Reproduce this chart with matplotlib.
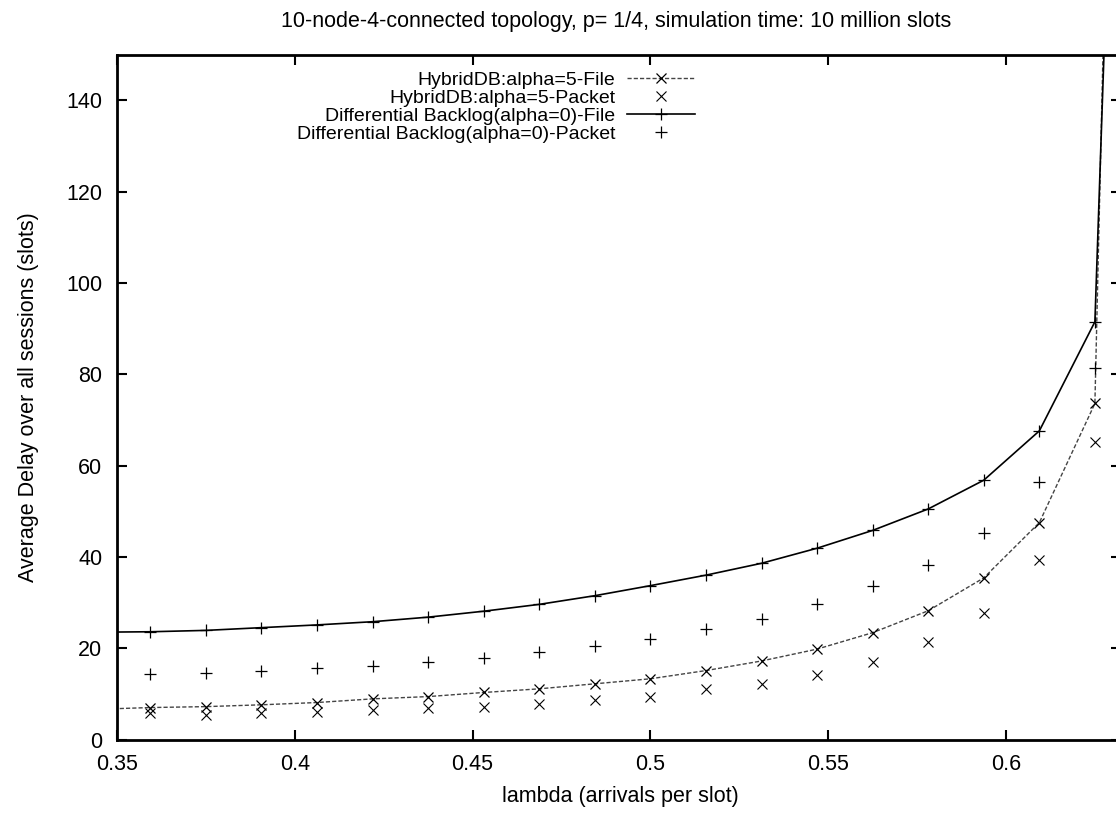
import matplotlib
matplotlib.use("Agg")
import matplotlib.pyplot as plt
import numpy as np

plt.rcParams['font.family'] = ['Liberation Sans', 'DejaVu Sans']

# x values: lambda = k/64 (first and last points lie outside the visible window)
lam_file = [k / 64 for k in range(22, 42)]
lam_pkt = [k / 64 for k in range(23, 41)]

hyb_file = [6.6, 7.0, 7.2, 7.6, 8.1, 8.9, 9.4, 10.3, 11.1, 12.2, 13.3, 15.1,
            17.2, 19.8, 23.4, 28.2, 35.4, 47.5, 73.6, 600]
hyb_pkt = [5.7, 5.4, 5.7, 6.1, 6.5, 6.8, 7.2, 7.8, 8.7, 9.4, 11.0, 12.1,
           14.1, 17.0, 21.3, 27.8, 39.3, 65.2]
db_file = [23.5, 23.6, 23.9, 24.5, 25.1, 25.8, 26.8, 28.1, 29.6, 31.5, 33.7, 36.0,
           38.6, 41.9, 45.8, 50.5, 56.8, 67.6, 91.5, 450]
db_pkt = [14.3, 14.5, 15.0, 15.6, 16.1, 17.0, 17.8, 19.1, 20.5, 22.1, 24.1, 26.5,
          29.6, 33.6, 38.2, 45.2, 56.5, 81.4]

labels = ["HybridDB:alpha=5-File", "HybridDB:alpha=5-Packet",
          "Differential Backlog(alpha=0)-File", "Differential Backlog(alpha=0)-Packet"]
title = "10-node-4-connected topology, p= 1/4, simulation time: 10 million slots"
xticks = [0.35, 0.4, 0.45, 0.5, 0.55, 0.6]
xticklabels = ["0.35", "0.4", "0.45", "0.5", "0.55", "0.6"]
yticks = [0, 20, 40, 60, 80, 100, 120, 140]

W, H = 1116, 815
fig = plt.figure(figsize=(W / 100, H / 100), dpi=100)
left_px, right_px, bot_px, top_px = 117, 1121, 739.5, 54.7
ax = fig.add_axes([left_px / W, (H - bot_px) / H, (right_px - left_px) / W, (bot_px - top_px) / H])

fs = 15.5
ms = 7.5
ax.plot(lam_file, hyb_file, color='#444444', lw=1.0, ls=(0, (3, 1.5)),
        marker='x', ms=ms, mew=0.9, mec='black', label=labels[0])
ax.plot(lam_pkt, hyb_pkt, ls='none', marker='x', ms=6.5, mew=0.8, color='black', label=labels[1])
ax.plot(lam_file, db_file, color='black', lw=1.2, marker='+', ms=ms + 1, mew=0.9, label=labels[2])
ax.plot(lam_pkt, db_pkt, ls='none', marker='+', ms=ms + 1, mew=0.9, color='black', label=labels[3])

ax.set_xlim(0.35, 0.35 + (right_px - left_px) / 3556.0)
ax.set_ylim(0, 150)
ax.set_xticks(xticks)
ax.set_xticklabels(xticklabels)
ax.set_yticks(yticks)
ax.tick_params(direction='in', length=7, width=1.5, labelsize=fs,
               top=True, right=True, pad=10.5)
for s in ax.spines.values():
    s.set_linewidth(2)

fig.text(616 / W, 1 - 22 / H, title, fontsize=fs, ha='center', va='center')
ax.set_xlabel("lambda (arrivals per slot)", fontsize=fs)
ax.xaxis.set_label_coords(0.501, -0.068)
ax.set_ylabel("Average Delay over all sessions (slots)", fontsize=fs)
ax.yaxis.set_label_coords(-0.078, 0.5)

lfs = 14
leg = ax.legend(loc='upper right', bbox_to_anchor=(695 / W, 1 - 71 / H),
                bbox_transform=fig.transFigure, frameon=False,
                markerfirst=False, fontsize=lfs, labelspacing=0.02,
                handlelength=3.5, handletextpad=0.6, borderaxespad=0, borderpad=0)

fig.savefig("out.png", dpi=100)
